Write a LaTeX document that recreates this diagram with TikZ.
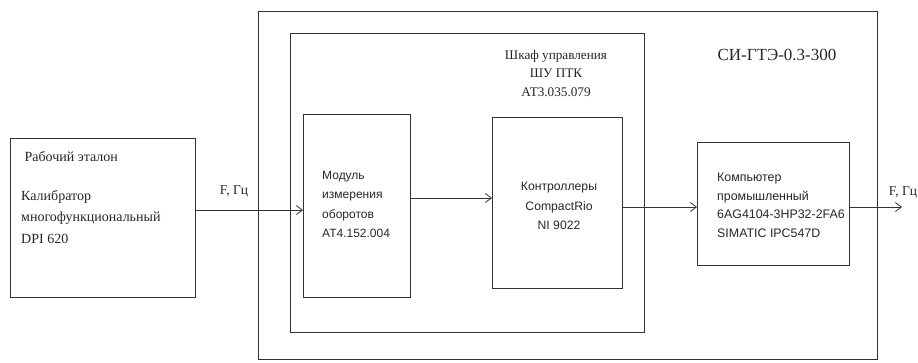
\documentclass[tikz,border=0pt]{standalone}
\usepackage{fontspec}
\setmainfont{Liberation Serif}
\newfontfamily\arialf{Liberation Sans}
\usetikzlibrary{arrows.meta}
\begin{document}
\begin{tikzpicture}[x=1pt,y=-1pt,
  frame/.style={draw=black!80,line width=0.8pt},
  serif/.style={font=\fontsize{14}{21.5}\selectfont,text=black!85},
  sans/.style={font=\arialf\fontsize{12.2}{19.5}\selectfont,text=black!85},
  conn/.style={draw=black!80,line width=0.8pt,-{Straight Barb[length=6pt,width=9pt]}}]
\useasboundingbox (0,0) rectangle (918,362);
% boxes
\draw[frame] (258,11) rectangle (877,359);
\draw[frame] (290,33) rectangle (644,332);
\node[frame,minimum width=185pt,minimum height=159pt,anchor=north west,inner sep=0] (src) at (10,138) {};
\node[frame,minimum width=107pt,minimum height=183pt,anchor=north west,inner sep=0] (mod) at (303,114) {};
\node[frame,minimum width=130pt,minimum height=171pt,anchor=north west,inner sep=0] (ctrl) at (492,117) {};
\node[frame,minimum width=152pt,minimum height=123pt,anchor=north west,inner sep=0] (comp) at (697,142) {};
\coordinate (outend) at (902,207);
% texts
\node[serif,anchor=west] (t1) at (21,157) {Рабочий эталон};
\node[serif,anchor=north west,align=left,inner sep=0] (t2) at (21,190) {Калибратор\\многофункциональный\\DPI 620};
\node[sans,font=\arialf\fontsize{12}{19.5}\selectfont,anchor=north west,align=left,inner sep=0] (t3) at (322,171) {Модуль\\измерения\\оборотов\\АТ4.152.004};
\node[sans,anchor=north,align=center,inner sep=0] (t4) at (559,182) {Контроллеры\\CompactRio\\NI 9022};
\node[sans,font=\arialf\fontsize{12.4}{18.5}\selectfont,anchor=north west,align=left,inner sep=0] (t5) at (717,173) {Компьютер\\промышленный\\6AG4104-3HP32-2FA6\\SIMATIC IPC547D};
\node[serif,font=\fontsize{13.2}{18.5}\selectfont,anchor=north,align=center,inner sep=0] (t6) at (556,50) {Шкаф управления\\ШУ ПТК\\АТ3.035.079};
\node[serif,font=\fontsize{17}{18}\selectfont] (t7) at (777,55) {СИ-ГТЭ-0.3-300};
\node[serif,font=\fontsize{13.5}{16}\selectfont] (l1) at (234,191) {F, Гц};
\node[serif,font=\fontsize{13.5}{16}\selectfont] (l2) at (903,192) {F, Гц};
% connectors
\draw[conn] (src.east |- 0,210) -- (mod.west |- 0,210);
\draw[conn] (mod.east |- 0,198) -- (ctrl.west |- 0,198);
\draw[conn] (ctrl.east |- 0,207) -- (comp.west |- 0,207);
\draw[conn] (comp.east |- 0,207) -- (outend);
\end{tikzpicture}
\end{document}
